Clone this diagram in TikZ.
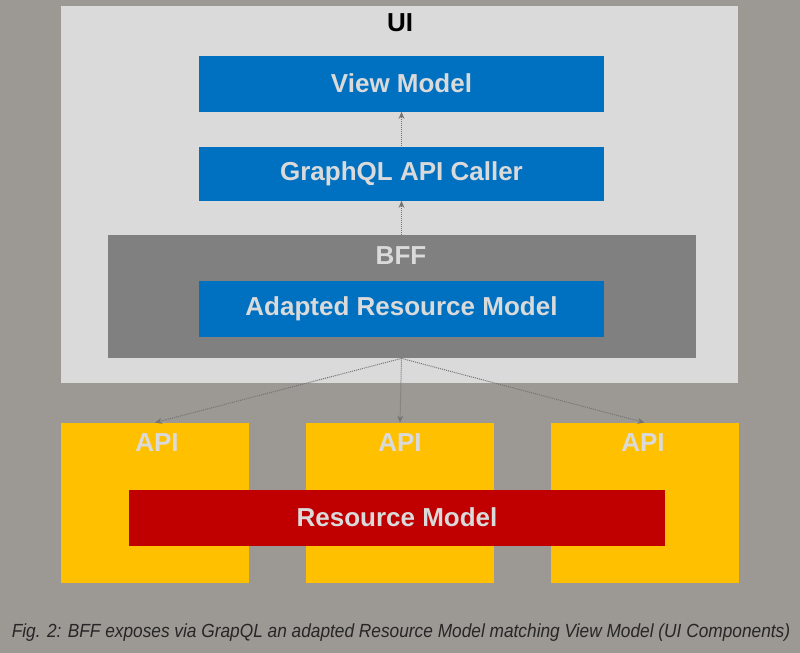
\documentclass[tikz,border=0pt]{standalone}
\usepackage{fontspec}
\setmainfont{Liberation Sans}
\usetikzlibrary{positioning}
\usetikzlibrary{arrows.meta}
\definecolor{BACK}{HTML}{9C9994}
\definecolor{UI_GRAY}{HTML}{DADADA}
\definecolor{BLUE}{HTML}{0070C0}
\definecolor{BFF_GRAY}{HTML}{808080}
\definecolor{YELLOW}{HTML}{FFC000}
\definecolor{RED}{HTML}{C00000}
\definecolor{LINK}{HTML}{737373}
\tikzset{
	every node/.style = {font=\bfseries\fontsize{13}{15}\selectfont, inner sep=0pt},
	model/.style = {fill=BLUE, text=UI_GRAY, minimum width=202.5pt, minimum height=28pt},
	api/.style = {fill=YELLOW, minimum width=94pt, minimum height=80pt},
	title/.style = {text=UI_GRAY},
	link/.style = {LINK, line width=0.5pt, dash pattern=on 0.5pt off 0.5pt,
	               -{Stealth[length=3.5pt, width=3pt]}}
}

\begin{document}
\begin{tikzpicture}[x=0.5pt, y=-0.5pt]
		% background
		\fill[BACK] (0,0) rectangle (800,653);
		\useasboundingbox (0,0) rectangle (800,653);
		% UI
		\node[fill=UI_GRAY, minimum width=338.5pt, minimum height=188.5pt] (ui) at (399.5,194.5) {};
		\node[text=black] (uititle) at (400,23) {UI};
		\node[model] (viewmodel) at (401.5,83.5) {View Model};
		\node[model, minimum height=27pt] (caller) at (401.5,173.5) {GraphQL API Caller};
		% BFF
		\node[fill=BFF_GRAY, minimum width=294pt, minimum height=61.5pt] (bff) at (401.5,296.5) {};
		\node[title] (bfftitle) at (401,256) {BFF};
		\node[model] (adapted) at (401.5,308.5) {Adapted Resource Model};
		% APIs
		\node[api] (api1) at (155,503) {};
		\node[api] (api2) at (400,503) {};
		\node[api] (api3) at (644.5,503) {};
		\node[title] (apititle1) at (157,443) {API};
		\node[title] (apititle2) at (400,443) {API};
		\node[title] (apititle3) at (643,443) {API};
		\node[fill=RED, text=UI_GRAY, minimum width=268pt, minimum height=28pt] (resource) at (397,517.5) {Resource Model};
		% links
		\draw[link] (caller.north) -- (viewmodel.south);
		\draw[link] (bff.north) -- (caller.south);
		\draw[link] (bff.south) -- (api1.north);
		\draw[link] (bff.south) -- (api2.north);
		\draw[link] (bff.south) -- (api3.north);
		% caption
		\node[font=\itshape\fontsize{9.5}{11}\selectfont, text=black!85, xscale=0.91] (caption) at (401,633)
		      {Fig. 2: BFF exposes via GrapQL an adapted Resource Model matching View Model (UI Components)};
	\end{tikzpicture}
\end{document}
